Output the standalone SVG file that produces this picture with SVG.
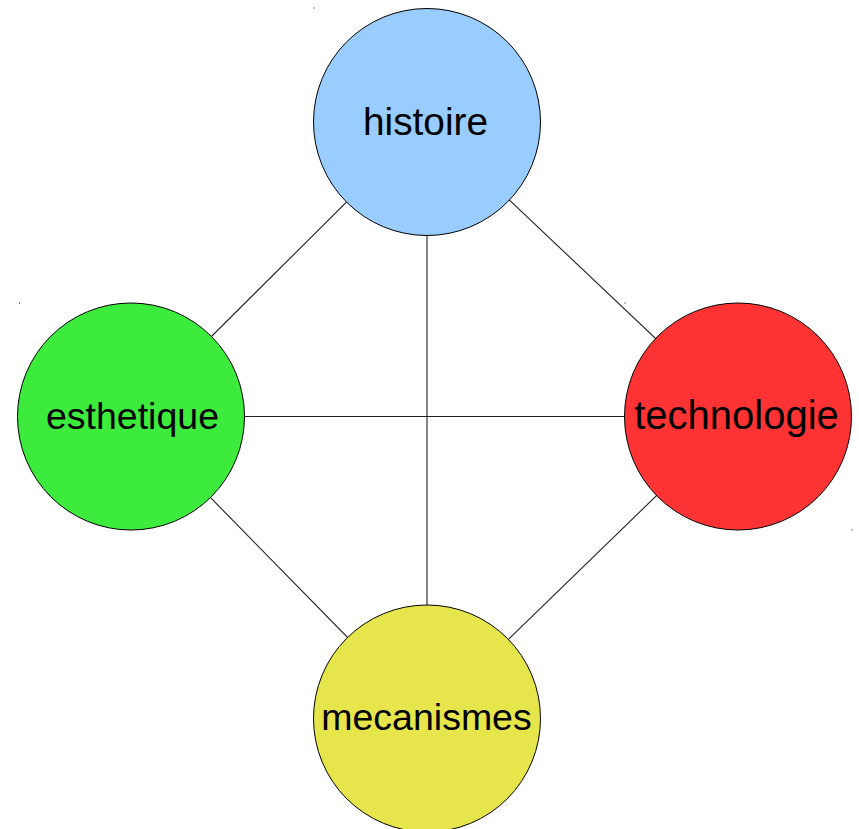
<svg xmlns="http://www.w3.org/2000/svg" width="859" height="829" viewBox="0 0 859 829">
<style>
.n{stroke:#000;stroke-width:1}
.l{stroke:#222;stroke-width:1.1;fill:none}
.t{font-family:"Liberation Sans",Arial,sans-serif;font-size:37.5px;text-anchor:middle;fill:#000}
.d{fill:#000}
</style>
<rect width="859" height="829" fill="#fff"/>
<g id="connectors">
<line class="l" x1="427" y1="122" x2="131" y2="416.5"/>
<line class="l" x1="427" y1="122" x2="738" y2="416.5"/>
<line class="l" x1="427" y1="122" x2="427" y2="718.5"/>
<line class="l" x1="131" y1="416.5" x2="738" y2="416.5"/>
<line class="l" x1="131" y1="416.5" x2="427" y2="718.5"/>
<line class="l" x1="738" y1="416.5" x2="427" y2="718.5"/>
</g>
<g id="histoire">
<circle class="n" cx="427" cy="122" r="113.5" fill="#99ccff"/>
<text class="t" x="425.5" y="135" style="font-size:38.8px">histoire</text>
</g>
<g id="esthetique">
<circle class="n" cx="131" cy="416.5" r="113.5" fill="#3deb3d"/>
<text class="t" x="132.5" y="429">esthetique</text>
</g>
<g id="technologie">
<circle class="n" cx="738" cy="416.5" r="113.5" fill="#ff3333"/>
<text class="t" x="736.5" y="428.5" style="font-size:40px">technologie</text>
</g>
<g id="mecanismes">
<circle class="n" cx="427" cy="718.5" r="113.5" fill="#e6e64c"/>
<text class="t" x="426.5" y="730">mecanismes</text>
</g>
<rect class="d" x="313.5" y="7.5" width="1" height="1"/>
<rect class="d" x="19" y="302.5" width="1" height="1"/>
<rect class="d" x="624.5" y="302.5" width="1" height="1"/>
<rect class="d" x="851.5" y="529.5" width="1" height="1"/>
</svg>
